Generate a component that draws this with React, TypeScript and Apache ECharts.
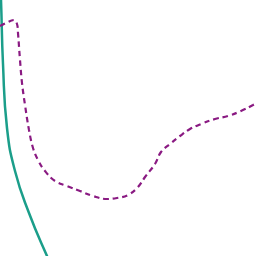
import React, { useEffect, useRef } from "react";
import * as echarts from "echarts";

const tealX = [0, 1, 3, 7, 15, 29, 47, 53];
const tealY = [-20, 0, 64, 128, 171, 213, 256, 268];

const purpleX = [0, 6, 14, 17, 18, 20, 22, 25, 29, 33, 38, 45, 55, 67, 80, 93, 107, 117, 128, 138, 145, 155, 161, 170, 180, 190, 201, 215, 228, 241, 253, 260];
const purpleY = [26, 23, 20, 24, 33, 60, 83, 105, 130, 148, 160, 171, 181, 186, 191, 196, 199, 198, 195, 187, 177, 164, 152, 144, 136, 129, 124, 119, 116, 111, 105, 101];

export default function App() {
  const ref = useRef<HTMLDivElement>(null);
  useEffect(() => {
    const chart = echarts.init(ref.current!, null, { renderer: "svg" });
    chart.setOption({
      animation: false,
      grid: { left: 0, right: 0, top: 0, bottom: 0 },
      xAxis: { type: "value", min: 0, max: 256, show: false },
      yAxis: { type: "value", min: 0, max: 256, inverse: true, show: false },
      series: [
        {
          type: "line",
          data: tealX.map((x, i) => [x, tealY[i]]),
          smooth: 0.5,
          showSymbol: false,
          lineStyle: { color: "#1b9e8a", width: 2.5 },
        },
        {
          type: "line",
          data: purpleX.map((x, i) => [x, purpleY[i]]),
          smooth: 0.4,
          showSymbol: false,
          lineStyle: { color: "#8a1a82", width: 2.2, type: [5.5, 4] },
        },
      ],
    });
    return () => chart.dispose();
  }, []);
  return (
    <div
      ref={ref}
      style={{ position: "fixed", left: 0, top: 0, width: 256, height: 256, background: "#fff" }}
    />
  );
}
